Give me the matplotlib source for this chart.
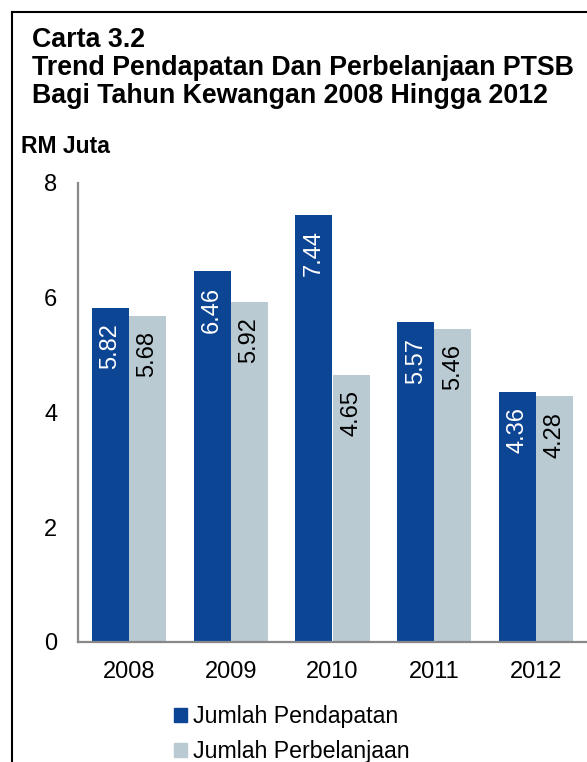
import numpy as np
import matplotlib.pyplot as plt
from matplotlib.patches import Patch
from matplotlib.lines import Line2D

plt.rcParams['font.family'] = ['Liberation Sans', 'DejaVu Sans']

years = ['2008', '2009', '2010', '2011', '2012']
pendapatan = [5.82, 6.46, 7.44, 5.57, 4.36]
perbelanjaan = [5.68, 5.92, 4.65, 5.46, 4.28]
labels = ['Jumlah Pendapatan', 'Jumlah Perbelanjaan']

dark = '#0C4594'
light = '#B9CAD3'

W, H = 587, 762
fig = plt.figure(figsize=(W / 100, H / 100), dpi=100)
ax = fig.add_axes([78 / W, 1 - 642 / H, 1 - 78 / W, (642 - 183) / H])

x = np.arange(len(years))
bw = 0.365
b1 = ax.bar(x - bw / 2, pendapatan, bw, color=dark)
b2 = ax.bar(x + bw / 2, perbelanjaan, bw, color=light)

for bars, vals, col in [(b1, pendapatan, 'white'), (b2, perbelanjaan, 'black')]:
    for b, v in zip(bars, vals):
        ax.annotate(f'{v:.2f}', (b.get_x() + b.get_width() / 2, v),
                    xytext=(0, -11), textcoords='offset points',
                    rotation=90, ha='center', va='top', color=col, fontsize=17)

ax.set_xlim(-0.5, len(years) - 0.5)
ax.set_ylim(0, 8)
ax.set_yticks([0, 2, 4, 6, 8])
ax.set_xticks(x)
ax.set_xticklabels(years)
ax.tick_params(axis='y', length=0, pad=15, labelsize=17)
ax.tick_params(axis='x', length=0, pad=14, labelsize=17)
for s in ['top', 'right']:
    ax.spines[s].set_visible(False)
for s in ['left', 'bottom']:
    ax.spines[s].set_color('#888888')
    ax.spines[s].set_linewidth(1.6)

handles = [Patch(color=dark), Patch(color=light)]
fig.legend(handles, labels, loc='upper left',
           bbox_to_anchor=(174 / W, 1 - 705 / H), bbox_transform=fig.transFigure,
           frameon=False, fontsize=16.7, borderpad=0, borderaxespad=0,
           handlelength=0.56, handleheight=0.56, handletextpad=0.25,
           labelspacing=0.52)

# titles
fig.text(32 / W, 1 - 47 / H, 'Carta 3.2', fontsize=19.3, fontweight='bold', va='baseline')
fig.text(32 / W, 1 - 75 / H, 'Trend Pendapatan Dan Perbelanjaan PTSB',
         fontsize=19.3, fontweight='bold', va='baseline')
fig.text(32 / W, 1 - 103 / H, 'Bagi Tahun Kewangan 2008 Hingga 2012',
         fontsize=19.3, fontweight='bold', va='baseline')
fig.text(21 / W, 1 - 153 / H, 'RM Juta', fontsize=16.5, fontweight='bold', va='baseline')

# frame lines
fig.add_artist(Line2D([12 / W, 12 / W], [0, 1 - 12 / H], color='black', lw=1.5,
                      transform=fig.transFigure))
fig.add_artist(Line2D([12 / W, 1], [1 - 12 / H, 1 - 12 / H], color='black', lw=1.5,
                      transform=fig.transFigure))

fig.savefig('out.png', dpi=100)
